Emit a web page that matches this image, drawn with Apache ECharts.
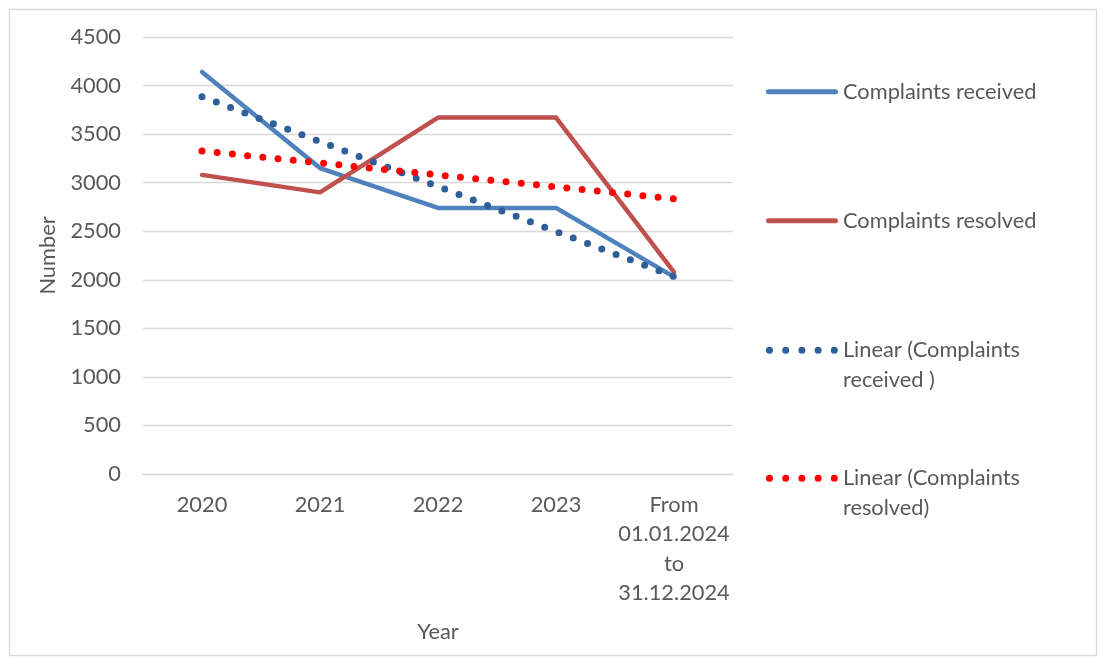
<!DOCTYPE html>
<html>
<head>
<meta charset="utf-8">
<script src="https://cdn.jsdelivr.net/npm/echarts@6/dist/echarts.min.js"></script>
<style>
  html, body { margin: 0; padding: 0; background: #ffffff; }
  #chart { width: 1101px; height: 659px; }
</style>
</head>
<body>
<div id="chart"></div>
<script>
// Categories along the x axis
const years = ['2020', '2021', '2022', '2023', 'From\n01.01.2024\nto\n31.12.2024'];

// Yearly complaint counts
const complaintsReceived = [4140, 3150, 2740, 2740, 2030];
const complaintsResolved = [3080, 2900, 3670, 3670, 2080];

// Linear trend lines of both series
const trendReceived = [3886, 3423, 2960, 2497, 2034];
const trendResolved = [3326, 3203, 3080, 2957, 2834];

// Value axis ticks
const yMin = 0;
const yMax = 4500;
const yStep = 500;

const FONT = 'Lato';
const TEXT = '#595959';
const FS = 21.8;
const LH = 29.5;

// Legend glyphs: a rounded bar for the data lines, five dots for the trends
const ICON_LINE = 'path://M2.5,0 L69.5,0 A2.5,2.5 0 0 1 69.5,5 L2.5,5 A2.5,2.5 0 0 1 2.5,0 Z';
const ICON_DOTS = 'path://' + [0, 16.2, 32.4, 48.6, 64.8].map(x =>
  `M${x},3.5 A3.5,3.5 0 1 0 ${x + 7},3.5 A3.5,3.5 0 1 0 ${x},3.5 Z`).join(' ');

const chart = echarts.init(document.getElementById('chart'), null, { renderer: 'canvas' });

function legendAt(name, top, icon, twoLine) {
  return {
    data: [{ name: name, icon: icon }],
    left: 766,
    top: top,
    padding: 0,
    orient: 'vertical',
    itemWidth: 72,
    itemHeight: icon === ICON_LINE ? 5 : 7,
    itemGap: 0,
    itemStyle: { borderWidth: 0 },
    // a leading blank line keeps the first text line level with the glyph
    formatter: twoLine ? (n => '\n' + n) : (n => n),
    textStyle: { fontFamily: FONT, fontSize: FS, color: TEXT, lineHeight: LH }
  };
}

const dotted = (color) => ({ color: color, width: 7, type: [0, 15.28], cap: 'round' });

chart.setOption({
  animation: false,
  textStyle: { fontFamily: FONT },
  grid: { left: 143, right: 368, top: 37, bottom: 185, containLabel: false },
  legend: [
    legendAt('Complaints received', 77, ICON_LINE, false),
    legendAt('Complaints resolved', 206, ICON_LINE, false),
    legendAt('Linear (Complaints\nreceived )', 306, ICON_DOTS, true),
    legendAt('Linear (Complaints\nresolved)', 434, ICON_DOTS, true)
  ],
  xAxis: {
    type: 'category',
    data: years,
    boundaryGap: true,
    name: 'Year',
    nameLocation: 'middle',
    nameGap: 147,
    nameTextStyle: { fontFamily: FONT, fontSize: FS, color: TEXT },
    axisLine: { show: true, lineStyle: { color: '#d9d9d9', width: 1.3 } },
    axisTick: { show: false },
    axisLabel: {
      fontFamily: FONT, fontSize: FS, color: TEXT,
      lineHeight: LH, margin: 16, interval: 0
    },
    splitLine: { show: false }
  },
  yAxis: {
    type: 'value',
    min: yMin,
    max: yMax,
    interval: yStep,
    name: 'Number',
    nameLocation: 'middle',
    nameGap: 84,
    nameTextStyle: { fontFamily: FONT, fontSize: FS, color: TEXT },
    axisLine: { show: false },
    axisTick: { show: false },
    axisLabel: { fontFamily: FONT, fontSize: FS, color: TEXT, margin: 22, formatter: v => String(v) },
    splitLine: { show: true, lineStyle: { color: '#d9d9d9', width: 1.3 } }
  },
  series: [
    {
      name: 'Complaints received',
      type: 'line',
      data: complaintsReceived,
      symbol: 'none',
      lineStyle: { color: '#4F81BD', width: 4.5, cap: 'round', join: 'round' },
      itemStyle: { color: '#4F81BD' },
      z: 2
    },
    {
      name: 'Complaints resolved',
      type: 'line',
      data: complaintsResolved,
      symbol: 'none',
      lineStyle: { color: '#C0504D', width: 4.5, cap: 'round', join: 'round' },
      itemStyle: { color: '#C0504D' },
      z: 2
    },
    {
      name: 'Linear (Complaints\nreceived )',
      type: 'line',
      data: trendReceived,
      symbol: 'none',
      lineStyle: dotted('#2F5E98'),
      itemStyle: { color: '#2F5E98' },
      z: 3
    },
    {
      name: 'Linear (Complaints\nresolved)',
      type: 'line',
      data: trendResolved,
      symbol: 'none',
      lineStyle: dotted('#FF0000'),
      itemStyle: { color: '#FF0000' },
      z: 3
    }
  ],
  graphic: [
    {
      type: 'rect',
      left: 7, top: 7,
      shape: { width: 1087, height: 646 },
      style: { fill: 'none', stroke: '#d9d9d9', lineWidth: 1.3 },
      silent: true
    }
  ]
});
</script>
</body>
</html>
